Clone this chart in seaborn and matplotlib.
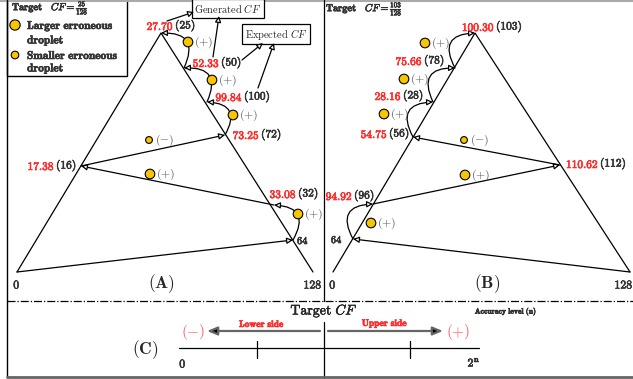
import matplotlib
matplotlib.use("Agg")
import matplotlib.pyplot as plt
import matplotlib.patheffects as pe
from matplotlib.patches import FancyArrowPatch, Rectangle
import seaborn as sns
import pandas as pd

# %% data
a_target = "25"
a_generated = [27.70, 52.33, 99.84, 73.25, 17.38, 33.08]
a_expected = [25, 50, 100, 72, 16, 32]
a_path = [0, 64, 32, 16, 72, 100, 50, 25]
a_signs = ["+", "+", "+", "-", "+", "+"]

b_target = "103"
b_generated = [100.30, 75.66, 28.16, 54.75, 94.92, 110.62]
b_expected = [103, 78, 28, 56, 96, 112]
b_path = [128, 64, 96, 112, 56, 28, 78, 103]
b_signs = ["+", "+", "+", "-", "+", "+"]

# %% layout (pixel coords)
pos_a = {0: (17, 272), 128: (313, 272), 64: (293, 240), 32: (274, 205), 16: (81, 166),
         72: (225, 135), 100: (207, 102), 50: (184, 68), 25: (161, 33)}
split_a = {25: (174, 26), 50: (220, 63), 100: (243, 97), 72: (260, 135), 16: (55, 166), 32: (297, 194)}
arc_a = [0, 0.8, 0, 0, 0.8, 0.8, 0.8]
marks_a = [(188, 42), (212, 80), (233, 115), (149, 140), (150, 174), (298, 214)]

pos_b = {0: (333, 272), 128: (630, 272), 64: (353, 239), 96: (373, 204), 112: (560, 165),
         56: (413, 137), 28: (433, 102), 78: (455, 68), 103: (475, 33)}
split_b = {103: (495, 27), 78: (423, 61), 28: (402, 96), 56: (388, 134), 96: (353, 196), 112: (599, 164)}
arc_b = [0, -0.8, 0, 0, -0.8, -0.8, -0.8]
marks_b = [(425, 43), (404, 79), (384, 114), (464, 140), (465, 175), (371, 223)]

RED = "#ff2b2b"
GOLD = "#f7c600"
DARK = "#333333"
HEAD = "-|>,head_length=0.6,head_width=0.3"

sns.set_style("white")
plt.rcParams["mathtext.fontset"] = "cm"

fig = plt.figure(figsize=(6.33, 3.79), dpi=100)
ax = fig.add_axes([0, 0, 1, 1])
ax.set_xlim(0, 633)
ax.set_ylim(379, 0)
ax.axis("off")


def bold(x, y, s, color=DARK, size=8.2, **kw):
    ax.text(x, y, s, color=color, fontsize=size, va="center",
            path_effects=[pe.withStroke(linewidth=0.45, foreground=color)], **kw)


def arrow(p, q, rad=0.0, lw=0.9):
    ax.add_patch(FancyArrowPatch(p, q, connectionstyle=f"arc3,rad={rad}", arrowstyle=HEAD,
                                 mutation_scale=6, fc="white", ec="black", lw=lw,
                                 shrinkA=0, shrinkB=0, zorder=3))


def panel(pos, path, arcs, generated, expected, split, marks, signs):
    apex = pos[path[-1]]
    ax.plot([pos[0][0], apex[0], pos[128][0]], [pos[0][1], apex[1], pos[128][1]],
            color="black", lw=0.9, zorder=2)
    for i in range(len(path) - 1):
        arrow(pos[path[i]], pos[path[i + 1]], rad=arcs[i])
    for g, e in zip(generated, expected):
        x, y = split[e]
        bold(x, y, rf"$\mathbf{{{g:.2f}}}$", color=RED, ha="right")
        bold(x + 1, y, rf"$\mathbf{{({e})}}$", ha="left")
    df = pd.DataFrame({"x": [m[0] for m in marks], "y": [m[1] for m in marks], "sign": signs})
    sns.scatterplot(data=df, x="x", y="y", size="sign", sizes={"+": 48, "-": 24},
                    color=GOLD, edgecolor="black", linewidth=0.8, legend=False, ax=ax, zorder=4)
    for (x, y), s in zip(marks, signs):
        lab = r"$(+)$" if s == "+" else r"$(-)$"
        ax.text(x + 6, y + 0.5, lab, color="#555555", fontsize=8.5, ha="left", va="center")


panel(pos_a, a_path, arc_a, a_generated, a_expected, split_a, marks_a, a_signs)
panel(pos_b, b_path, arc_b, b_generated, b_expected, split_b, marks_b, b_signs)

# plain node labels
bold(297, 240, r"$\mathbf{64}$", size=7.5, ha="left")
bold(343, 239, r"$\mathbf{64}$", size=7.5, ha="right")
for x, s in [(17, "0"), (313, "128"), (333, "0"), (624, "128")]:
    bold(x, 285, rf"$\mathbf{{{s}}}$", size=8.5, ha="center")
ax.text(161, 284, r"$(\mathbf{A})$", fontsize=12.5, ha="center", va="center")
ax.text(487, 284, r"$(\mathbf{B})$", fontsize=12.5, ha="center", va="center")

# generated / expected boxes
box = dict(boxstyle="square,pad=0.25", fc="white", ec="black", lw=0.9)
ax.text(228, 8.5, r"$\mathrm{Generated}\ \mathit{CF}$", fontsize=7.5, ha="center", va="center", bbox=box)
ax.text(276, 34, r"$\mathrm{Expected}\ \mathit{CF}$", fontsize=7.5, ha="center", va="center", bbox=box)
arrow((167, 21), (194, 12))
arrow((213, 57), (219, 16))
arrow((242, 60), (263, 43))
arrow((258, 88), (274, 43))

# legend box of panel A
ax.add_patch(Rectangle((7, -1), 120, 77, fc="white", ec="black", lw=1.0, zorder=1))
bold(12, 8, rf"$\mathbf{{Target}}\quad \mathit{{CF}} = \frac{{{a_target}}}{{128}}$", size=7.3, ha="left")
bold(326, 9, rf"$\mathbf{{Target}}\quad \mathit{{CF}} = \frac{{{b_target}}}{{128}}$", size=7.3, ha="left")
leg = pd.DataFrame({"x": [15, 15], "y": [25, 55], "kind": ["big", "small"]})
sns.scatterplot(data=leg, x="x", y="y", size="kind", sizes={"big": 55, "small": 30},
                color=GOLD, edgecolor="black", linewidth=0.8, legend=False, ax=ax, zorder=4)
for y, s in [(19, "Larger"), (49, "Smaller")]:
    ax.text(27, y, rf"$\mathbf{{{s}\ erroneous}}$" + "\n" + r"$\mathbf{droplet}$", fontsize=8.2,
            color=DARK, ha="left", va="top", linespacing=1.05,
            path_effects=[pe.withStroke(linewidth=0.45, foreground=DARK)])

# frame
ax.plot([0, 633], [0.5, 0.5], color="#aaaaaa", lw=1.5)
ax.plot([7, 7], [0, 377], color="black", lw=1.0)
ax.plot([324, 324], [0, 301], color="black", lw=0.9)
ax.plot([324, 324], [322, 379], color="black", lw=0.9)
ax.plot([7, 633], [301, 301], color="black", lw=0.9, ls="-.")
ax.plot([7, 633], [376.5, 376.5], color="#666666", lw=2)

# panel C
ax.text(324, 311, r"$\mathrm{Target}\ \mathbf{\mathit{CF}}$", fontsize=10, ha="center", va="center",
        path_effects=[pe.withStroke(linewidth=0.3, foreground="black")])
bold(506, 311, r"$\mathbf{Accuracy\ level\ (n)}$", size=5.5, ha="center")
ax.text(145, 350, r"$(\mathbf{C})$", fontsize=12.5, ha="center", va="center")
ax.plot([179, 479], [348, 348], color="black", lw=0.9)
for tx in [257, 410]:
    ax.plot([tx, tx], [341, 358], color="black", lw=0.9)
for start, end in [((320, 331), (207, 331)), ((328, 331), (443, 331))]:
    ax.add_patch(FancyArrowPatch(start, end, arrowstyle="-|>,head_length=0.6,head_width=0.25",
                                 mutation_scale=10, color="#666666", fc="black", lw=1.6,
                                 shrinkA=0, shrinkB=0))
ax.text(193, 332, r"$(-)$", fontsize=11, color="#ff5a5a", ha="center", va="center")
ax.text(458, 332, r"$(+)$", fontsize=11, color="#ff5a5a", ha="center", va="center")
bold(262, 324, r"$\mathbf{Lower\ side}$", color=RED, size=6.8, ha="center")
bold(385, 324, r"$\mathbf{Upper\ side}$", color=RED, size=6.8, ha="center")
bold(183, 364, r"$\mathbf{0}$", size=8.5, ha="center")
bold(474, 363, r"$\mathbf{2^n}$", size=8.5, ha="center")

fig.savefig("out.png", dpi=100)
